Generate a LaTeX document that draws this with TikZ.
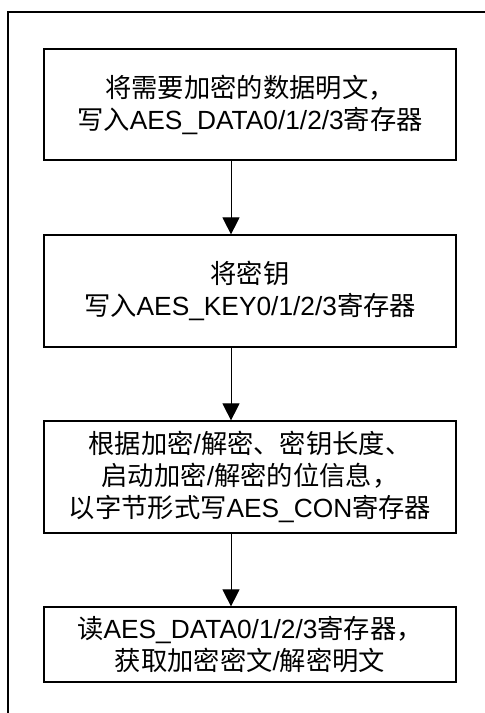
\documentclass[tikz,border=0pt]{standalone}
\usepackage{fontspec}
\setmainfont{Liberation Sans}
\newfontfamily\cjk{Noto Sans CJK SC}
\newcommand\zh[1]{{\cjk #1}}
\usetikzlibrary{arrows.meta}
\begin{document}
\begin{tikzpicture}[x=1pt,y=-1pt,
  stepbox/.style={draw,line width=1.2pt,minimum width=412pt,inner sep=0pt,align=center,
    font=\fontsize{26.3}{32}\selectfont},
  arr/.style={line width=1pt,-{Triangle[width=17pt,length=17pt]}}]
\useasboundingbox (0,0) rectangle (485,713);
\draw[line width=1.2pt] (8,713) -- (8,12) -- (485,12);
\node[stepbox,minimum height=111pt] (b1) at (250,104.5)
  {\zh{将需要加密的数据明文，}\\\zh{写入}AES\_DATA0/1/2/3\zh{寄存器}};
\node[stepbox,minimum height=112pt] (b2) at (250,291)
  {\zh{将密钥}\\\zh{写入}AES\_KEY0/1/2/3\zh{寄存器}};
\node[stepbox,minimum height=112pt] (b3) at (250,477)
  {\zh{根据加密}/\zh{解密、密钥长度、}\\\zh{启动加密}/\zh{解密的位信息，}\\\zh{以字节形式写}AES\_CON\zh{寄存器}};
\node[stepbox,minimum height=75pt] (b4) at (250,644.5)
  {\zh{读}AES\_DATA0/1/2/3\zh{寄存器，}\\\zh{获取加密密文}/\zh{解密明文}};
\coordinate (ax) at (231,0);
\draw[arr] (b1.south -| ax) -- (b2.north -| ax);
\draw[arr] (b2.south -| ax) -- (b3.north -| ax);
\draw[arr] (b3.south -| ax) -- (b4.north -| ax);
\end{tikzpicture}
\end{document}
